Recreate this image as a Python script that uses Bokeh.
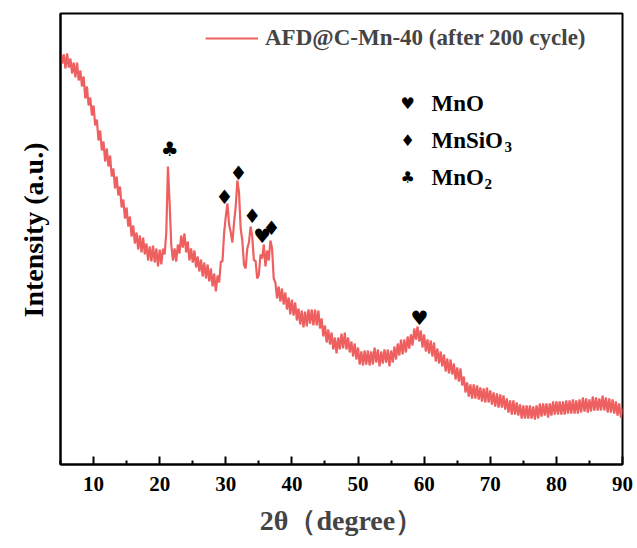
from bokeh.plotting import figure
from bokeh.models import FixedTicker, Range1d, Label, Legend, LegendItem, Title
from bokeh.core.properties import value
from bokeh.embed import file_html
from bokeh.resources import INLINE
import numpy as np

# 2-theta grid (degrees), 0.25 deg step from 5 to 90
two_theta_start = 5.0
two_theta_step = 0.25

# Intensity (a.u.), 4 points per degree
intensity = [
    415, 401, 410, 396,   # 5
    411, 397, 406, 391,   # 6
    402, 387, 402, 384,   # 7
    394, 378, 388, 366,   # 8
    378, 359, 367, 349,   # 9
    359, 339, 345, 324,   # 10
    334, 314, 323, 303,   # 11
    316, 298, 309, 288,   # 12
    296, 276, 288, 269,   # 13
    278, 257, 265, 246,   # 14
    257, 238, 248, 228,   # 15
    239, 221, 232, 215,   # 16
    229, 212, 227, 210,   # 17
    221, 204, 218, 203,   # 18
    219, 202, 216, 198,   # 19
    215, 200, 216, 210,   # 20
    232, 298, 262, 220,   # 21
    204, 216, 203, 220,   # 22
    211, 229, 217, 231,   # 23
    212, 223, 204, 216,   # 24
    202, 214, 197, 208,   # 25
    193, 205, 188, 202,   # 26
    186, 200, 183, 196,   # 27
    178, 191, 173, 189,   # 28
    182, 203, 203, 232,   # 29
    248, 261, 240, 232,   # 30
    222, 242, 258, 284,   # 31
    272, 236, 224, 200,   # 32
    196, 216, 222, 238,   # 33
    228, 204, 204, 186,   # 34
    190, 210, 206, 220,   # 35
    198, 214, 204, 224,   # 36
    216, 186, 182, 166,   # 37
    178, 163, 176, 160,   # 38
    172, 155, 167, 150,   # 39
    165, 149, 162, 144,   # 40
    156, 140, 154, 137,   # 41
    153, 138, 155, 141,   # 42
    155, 139, 155, 139,   # 43
    154, 136, 146, 128,   # 44
    139, 122, 135, 120,   # 45
    132, 115, 127, 111,   # 46
    127, 115, 131, 116,   # 47
    132, 115, 127, 112,   # 48
    123, 108, 121, 105,   # 49
    117, 100, 113, 99,    # 50
    114, 100, 114, 99,    # 51
    113, 100, 117, 102,   # 52
    115, 98, 113, 101,    # 53
    115, 102, 115, 98,    # 54
    114, 102, 118, 105,   # 55
    121, 109, 125, 110,   # 56
    125, 112, 128, 116,   # 57
    130, 119, 136, 125,   # 58
    138, 123, 134, 117,   # 59
    130, 113, 125, 111,   # 60
    124, 108, 122, 103,   # 61
    116, 101, 113, 98,    # 62
    110, 93, 106, 91,     # 63
    105, 90, 101, 85,     # 64
    97, 83, 96, 79,       # 65
    88, 72, 82, 68,       # 66
    80, 66, 80, 66,       # 67
    79, 65, 77, 63,       # 68
    76, 62, 77, 62,       # 69
    74, 60, 72, 58,       # 70
    71, 57, 70, 57,       # 71
    69, 55, 66, 52,       # 72
    64, 50, 64, 50,       # 73
    62, 49, 60, 46,       # 74
    59, 46, 59, 46,       # 75
    59, 46, 58, 45,       # 76
    59, 46, 61, 48,       # 77
    61, 49, 61, 47,       # 78
    61, 49, 63, 50,       # 79
    63, 50, 63, 50,       # 80
    63, 50, 64, 51,       # 81
    64, 51, 65, 51,       # 82
    64, 51, 65, 52,       # 83
    67, 53, 66, 52,       # 84
    65, 53, 68, 54,       # 85
    67, 54, 66, 54,       # 86
    69, 54, 67, 52,       # 87
    66, 52, 65, 51,       # 88
    63, 49, 61, 47,       # 89
    56,                   # 90
]
two_theta = two_theta_start + two_theta_step * np.arange(len(intensity))

series_label = "AFD@C-Mn-40 (after 200 cycle)"
x_ticks = [10, 20, 30, 40, 50, 60, 70, 80, 90]
x_minor = [5, 15, 25, 35, 45, 55, 65, 75, 85]

# peak markers (symbol, 2theta, intensity)
marker_sym = ["\u2663", "\u2666", "\u2666", "\u2666", "\u2665", "\u2666", "\u2665"]
marker_x = [21.5, 29.8, 31.9, 34.0, 35.5, 36.9, 59.3]
marker_y = [316, 268, 292, 249, 229, 237, 147]

# phase key
phase_sym = ["\u2665", "\u2666", "\u2663"]
phase_name = ["MnO", "MnSiO", "MnO"]
phase_sub = ["", "3", "2"]
phase_y = [361, 324, 287]
phase_sub_offset = [0, 73, 53]

SERIF = "Liberation Serif"
RED = "#ee5f5f"

p = figure(width=637, height=548, output_backend="svg", toolbar_location=None,
           x_range=Range1d(5, 90), y_range=Range1d(0, 451),
           min_border_left=60, min_border_right=15, min_border_top=13, min_border_bottom=84)
p.grid.visible = False
p.outline_line_color = "black"
p.outline_line_width = 2
p.background_fill_color = "white"
p.border_fill_color = "white"

r = p.line(two_theta, intensity, line_color=RED, line_width=2.2)

xa = p.xaxis[0]
xa.ticker = FixedTicker(ticks=x_ticks, minor_ticks=x_minor)
xa.axis_line_width = 2
xa.major_tick_line_width = 2
xa.minor_tick_line_width = 2
xa.major_tick_in = 8
xa.major_tick_out = 0
xa.minor_tick_in = 4
xa.minor_tick_out = 0
xa.major_label_text_font = SERIF
xa.major_label_text_font_style = "bold"
xa.major_label_text_font_size = "21px"
xa.major_label_text_color = "black"
xa.major_label_standoff = 12
xa.axis_label = "2θ（degree）"
xa.axis_label_text_font = SERIF
xa.axis_label_text_font_style = "bold"
xa.axis_label_text_font_size = "28px"
xa.axis_label_standoff = 11

ya = p.yaxis[0]
ya.ticker = FixedTicker(ticks=[])
ya.axis_line_width = 2
ya.major_tick_in = 0
ya.major_tick_out = 0
ya.minor_tick_in = 0
ya.minor_tick_out = 0

# y-axis title as a side title, starting a little above the frame centre line
p.add_layout(Title(text="Intensity (a.u.)", align="left", offset=147, standoff=24,
                   text_font=SERIF, text_font_style="bold", text_font_size="28px",
                   text_color="black"), "left")

legend = Legend(items=[LegendItem(label=series_label, renderers=[r])],
                location=(145, 413), border_line_color=None, background_fill_alpha=0,
                glyph_width=53, glyph_height=20, label_height=20, label_standoff=7,
                padding=0, margin=0, spacing=0,
                label_text_font=SERIF, label_text_font_style="bold",
                label_text_font_size="23px")
p.add_layout(legend)

p.text(marker_x, marker_y, text=marker_sym, text_font=value("DejaVu Sans"),
       text_font_size="20px", text_align="center", text_baseline="middle", text_color="black")

for s, name, sub, yy, off in zip(phase_sym, phase_name, phase_sub, phase_y, phase_sub_offset):
    p.add_layout(Label(x=57.5, y=yy, text=s, text_font="DejaVu Sans", text_font_size="16px",
                       text_align="center", text_baseline="middle", text_color="black"))
    p.add_layout(Label(x=61.1, y=yy, text=name, text_font=SERIF, text_font_style="bold",
                       text_font_size="23px", text_baseline="middle", text_color="black"))
    if sub:
        p.add_layout(Label(x=61.1, y=yy, x_offset=off, y_offset=-6, text=sub,
                           text_font=SERIF, text_font_style="bold", text_font_size="15px",
                           text_baseline="middle", text_color="black"))

open("out.html", "w").write(file_html(p, INLINE))
